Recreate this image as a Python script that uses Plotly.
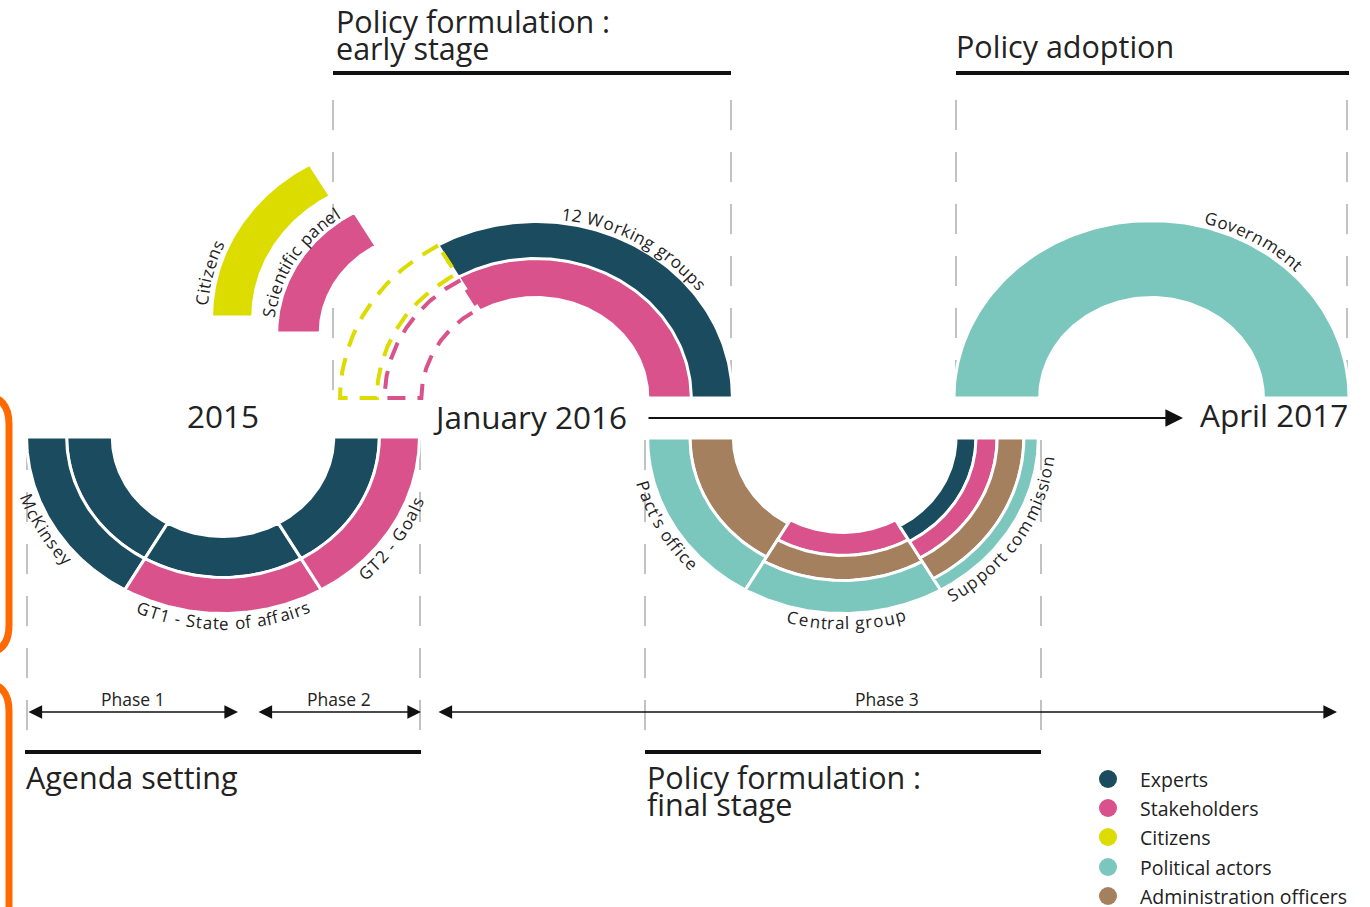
import numpy as np
import plotly.graph_objects as go

# ---------------- data ----------------
ACTORS = ["Experts", "Stakeholders", "Citizens", "Political actors", "Administration officers"]
ACTOR_COLORS = ["#1b4b5f", "#d9528b", "#dcdc00", "#7cc7bd", "#a5805f"]

DATES = ["2015", "January 2016", "April 2017"]
PHASES = ["Phase 1", "Phase 2", "Phase 3"]
STAGE_TOP = [["Policy formulation :", "early stage"], ["Policy adoption"]]
STAGE_BOTTOM = [["Agenda setting"], ["Policy formulation :", "final stage"]]

BODIES = ["McKinsey", "GT1 - State of affairs", "GT2 - Goals", "Citizens", "Scientific panel",
          "12 Working groups", "Pact's office", "Central group", "Support commission", "Government"]
# actors per body, from inner ring to outer ring
BODY_RINGS = [
    ["Experts", "Experts"],
    ["Experts", "Stakeholders"],
    ["Experts", "Stakeholders"],
    ["Citizens"],
    ["Stakeholders"],
    ["Stakeholders", "Experts"],
    ["Administration officers", "Political actors"],
    ["Stakeholders", "Administration officers", "Political actors"],
    ["Experts", "Stakeholders", "Administration officers", "Political actors"],
    ["Political actors"],
]
# bodies that moved out of the working groups (shown dashed in place)
MOVED_RINGS = ["Stakeholders", "Citizens"]

color_of = dict(zip(ACTORS, ACTOR_COLORS))

# ---------------- geometry (layout) ----------------
PAGE_OFF = 0  # body margin removed by post_script
K = 1.113  # horizontal stretch of the drawing
GEOM = {
    "McKinsey": dict(c=(223, 437), up=False, th=(120, 180), radii=[(101, 139), (142, 175)], lab=150),
    "GT1 - State of affairs": dict(c=(223, 437), up=False, th=(60, 120), radii=[(101, 139), (142, 175)], lab=90),
    "GT2 - Goals": dict(c=(223, 437), up=False, th=(0, 60), radii=[(101, 139), (142, 175)], lab=34),
    "Citizens": dict(c=(408, 317), up=True, th=(120, 180), radii=[(141, 175)], lab=166),
    "Scientific panel": dict(c=(432, 333), up=True, th=(120, 180), radii=[(102, 138)], lab=149),
    "12 Working groups": dict(c=(536, 398), up=True, th=(0, 120), radii=[(102, 138.5), (141, 175)], lab=60),
    "Pact's office": dict(c=(843, 438), up=False, th=(120, 180), radii=[(100, 136), (139, 174)], lab=151),
    "Central group": dict(c=(843, 438), up=False, th=(60, 120), radii=[(96, 116), (119, 141), (144, 174)], lab=89),
    "Support commission": dict(c=(843, 438), up=False, th=(0, 60),
                               radii=[(103, 118), (121, 137), (140, 161), (164, 174)], lab=33),
    "Government": dict(c=(1151.5, 398), up=True, th=(0, 180), radii=[(102, 176)], lab=60),
}
MOVED_GEOM = dict(c=(536, 398), up=True, th=(120, 180), radii=[(103, 136), (143, 176)])

FONT = "Open Sans"
TXT = "#222222"


def ell(cx, cy, r, th, up):
    s = -1 if up else 1
    return cx + K * r * np.cos(th), cy + s * r * np.sin(th)


def sector(cx, cy, r0, r1, t0, t1, up, n=120):
    th = np.radians(np.linspace(t0, t1, n))
    xo, yo = ell(cx, cy, r1, th, up)
    xi, yi = ell(cx, cy, r0, th[::-1], up)
    return np.concatenate([xo, xi, xo[:1]]), np.concatenate([yo, yi, yo[:1]])


fig = go.Figure()

# ---- sectors ----
for name, rings in zip(BODIES, BODY_RINGS):
    g = GEOM[name]
    for actor, (r0, r1) in zip(rings, g["radii"]):
        x, y = sector(g["c"][0], g["c"][1], r0 - 1.5, r1 + 1.5, g["th"][0], g["th"][1], g["up"])
        fig.add_trace(go.Scatter(x=x, y=y, mode="lines", fill="toself", fillcolor=color_of[actor],
                                 line=dict(color="white", width=3), hoverinfo="skip"))

# ---- dashed outlines of moved bodies ----
for actor, (r0, r1) in zip(MOVED_RINGS, MOVED_GEOM["radii"]):
    x, y = sector(MOVED_GEOM["c"][0], MOVED_GEOM["c"][1], r0, r1,
                  MOVED_GEOM["th"][0], MOVED_GEOM["th"][1], MOVED_GEOM["up"])
    fig.add_trace(go.Scatter(x=x, y=y, mode="lines",
                             line=dict(color=color_of[actor], width=4, dash="18px,12px"),
                             hoverinfo="skip"))

# ---- legend dots ----
leg_y = [779, 808, 837, 867, 896]
fig.add_trace(go.Scatter(x=[1108] * len(ACTORS), y=leg_y, mode="markers",
                         marker=dict(size=18, color=ACTOR_COLORS), hoverinfo="skip"))

annotations = []
for a, yy in zip(ACTORS, leg_y):
    annotations.append(dict(x=1138, y=yy, text=a, showarrow=False, xanchor="left", yanchor="middle",
                            font=dict(family=FONT, size=19.5, color=TXT)))

# ---- curved labels ----
W = {' ': 0.26, "'": 0.203, '-': 0.322, '1': 0.571, '2': 0.571, 'A': 0.633, 'C': 0.632, 'G': 0.728,
     'M': 0.907, 'P': 0.603, 'S': 0.549, 'T': 0.556, 'W': 0.925, 'K': 0.59, 'a': 0.556, 'c': 0.479,
     'e': 0.561, 'f': 0.336, 'g': 0.538, 'h': 0.613, 'i': 0.258, 'k': 0.531, 'l': 0.258, 'm': 0.925,
     'n': 0.613, 'o': 0.602, 'p': 0.613, 'r': 0.411, 's': 0.476, 't': 0.35, 'u': 0.613, 'v': 0.5,
     'y': 0.5, 'z': 0.47}


def curved(text, cx, cy, r, th_mid, up, size=17, stretch=1.1):
    grid = np.radians(np.linspace(-10, 370, 6000))
    ds = r * np.sqrt((K * np.sin(grid)) ** 2 + np.cos(grid) ** 2)
    L = np.concatenate([[0], np.cumsum(0.5 * (ds[1:] + ds[:-1]) * np.diff(grid))])
    Lmid = np.interp(np.radians(th_mid), grid, L)
    w = np.array([W.get(ch, 0.55) * size * stretch for ch in text])
    cum = np.cumsum(w) - w / 2 - w.sum() / 2
    out = []
    for ch, s in zip(text, cum):
        if ch == ' ':
            continue
        th = np.interp(Lmid - s, L, grid)
        x, y = ell(cx, cy, r, th, up)
        if up:
            ang = np.degrees(np.arctan2(np.cos(th), K * np.sin(th)))
        else:
            ang = np.degrees(np.arctan2(-np.cos(th), K * np.sin(th)))
        out.append(dict(x=x, y=y, text=ch, showarrow=False, textangle=float(ang),
                        xanchor="center", yanchor="middle",
                        font=dict(family=FONT, size=size, color=TXT)))
    return out


for name in BODIES:
    g = GEOM[name]
    rmax = g["radii"][-1][1]
    off = 10 if name == "Scientific panel" else 11
    annotations += curved(name, g["c"][0], g["c"][1], rmax + off, g["lab"], g["up"])

# ---- big texts ----
big = 30.5
dsz = 31.5
annotations.append(dict(x=223, y=415, text=DATES[0], showarrow=False, xanchor="center", yanchor="middle",
                        font=dict(family=FONT, size=dsz, color=TXT)))
annotations.append(dict(x=431, y=416, text=DATES[1], showarrow=False, xanchor="left", yanchor="middle",
                        font=dict(family=FONT, size=dsz, color=TXT)))
annotations.append(dict(x=1198, y=414, text=DATES[2], showarrow=False, xanchor="left", yanchor="middle",
                        font=dict(family=FONT, size=dsz, color=TXT)))

top_pos = [(334, [21, 48]), (954, [46])]
for lines, (x0, ys) in zip(STAGE_TOP, top_pos):
    for t, yy in zip(lines, ys):
        annotations.append(dict(x=x0, y=yy, text=t, showarrow=False, xanchor="left", yanchor="middle",
                                font=dict(family=FONT, size=big, color=TXT)))
bot_pos = [(24, [777]), (645, [777, 804])]
for lines, (x0, ys) in zip(STAGE_BOTTOM, bot_pos):
    for t, yy in zip(lines, ys):
        annotations.append(dict(x=x0, y=yy, text=t, showarrow=False, xanchor="left", yanchor="middle",
                                font=dict(family=FONT, size=big, color=TXT)))

# ---- phases (double arrows) ----
phase_span = [(27, 238), (257, 421), (437, 1337)]
for p, (a, b) in zip(PHASES, phase_span):
    annotations.append(dict(x=b, y=712, ax=a, ay=712, xref="x", yref="y", axref="x", ayref="y",
                            text="", showarrow=True, arrowhead=2, arrowside="end+start",
                            arrowsize=1.7, arrowwidth=1.6, arrowcolor="#111"))
    annotations.append(dict(x=(a + b) / 2, y=699, text=p, showarrow=False, xanchor="center",
                            yanchor="middle", font=dict(family=FONT, size=17.5, color=TXT)))

# ---- time arrow ----
annotations.append(dict(x=1183, y=418, ax=647, ay=418, xref="x", yref="y", axref="x", ayref="y",
                        text="", showarrow=True, arrowhead=2, arrowsize=1.6, arrowwidth=2.2,
                        arrowcolor="#111"))

shapes = []
# gray dashed guides
for x in [333, 731, 956, 1347]:
    shapes.append(dict(type="line", x0=x, x1=x, y0=100, y1=400, layer="below",
                       line=dict(color="#b3b3b3", width=1.6, dash="30px,22px")))
for x in [27, 420, 645, 1041]:
    shapes.append(dict(type="line", x0=x, x1=x, y0=440, y1=752, layer="below",
                       line=dict(color="#b3b3b3", width=1.6, dash="30px,22px")))
# stage bars
for (a, b, yy) in [(333, 731, 73), (956, 1349, 73), (25, 421, 752), (645, 1041, 752)]:
    shapes.append(dict(type="line", x0=a, x1=b, y0=yy, y1=yy, line=dict(color="#111", width=4)))
# orange brackets at left edge
shapes.append(dict(type="path",
                   path="M -30,396 L -16,396 Q 9,396 9,424 L 9,625 Q 9,653 -16,653 L -30,653",
                   line=dict(color="#ff6a00", width=7)))
shapes.append(dict(type="path", path="M -30,683 L -16,683 Q 9,683 9,711 L 9,930",
                   line=dict(color="#ff6a00", width=7)))

fig.update_layout(
    width=1370, height=907, margin=dict(l=0, r=0, t=0, b=0),
    paper_bgcolor="white", plot_bgcolor="white", showlegend=False,
    xaxis=dict(range=[PAGE_OFF, 1370 + PAGE_OFF], visible=False, fixedrange=True),
    yaxis=dict(range=[907 + PAGE_OFF, PAGE_OFF], visible=False, fixedrange=True),
    annotations=annotations, shapes=shapes,
)
fig.write_html("out.html", config={"displayModeBar": False},
               post_script="document.body.style.margin='0px'; document.body.style.overflow='hidden';")
